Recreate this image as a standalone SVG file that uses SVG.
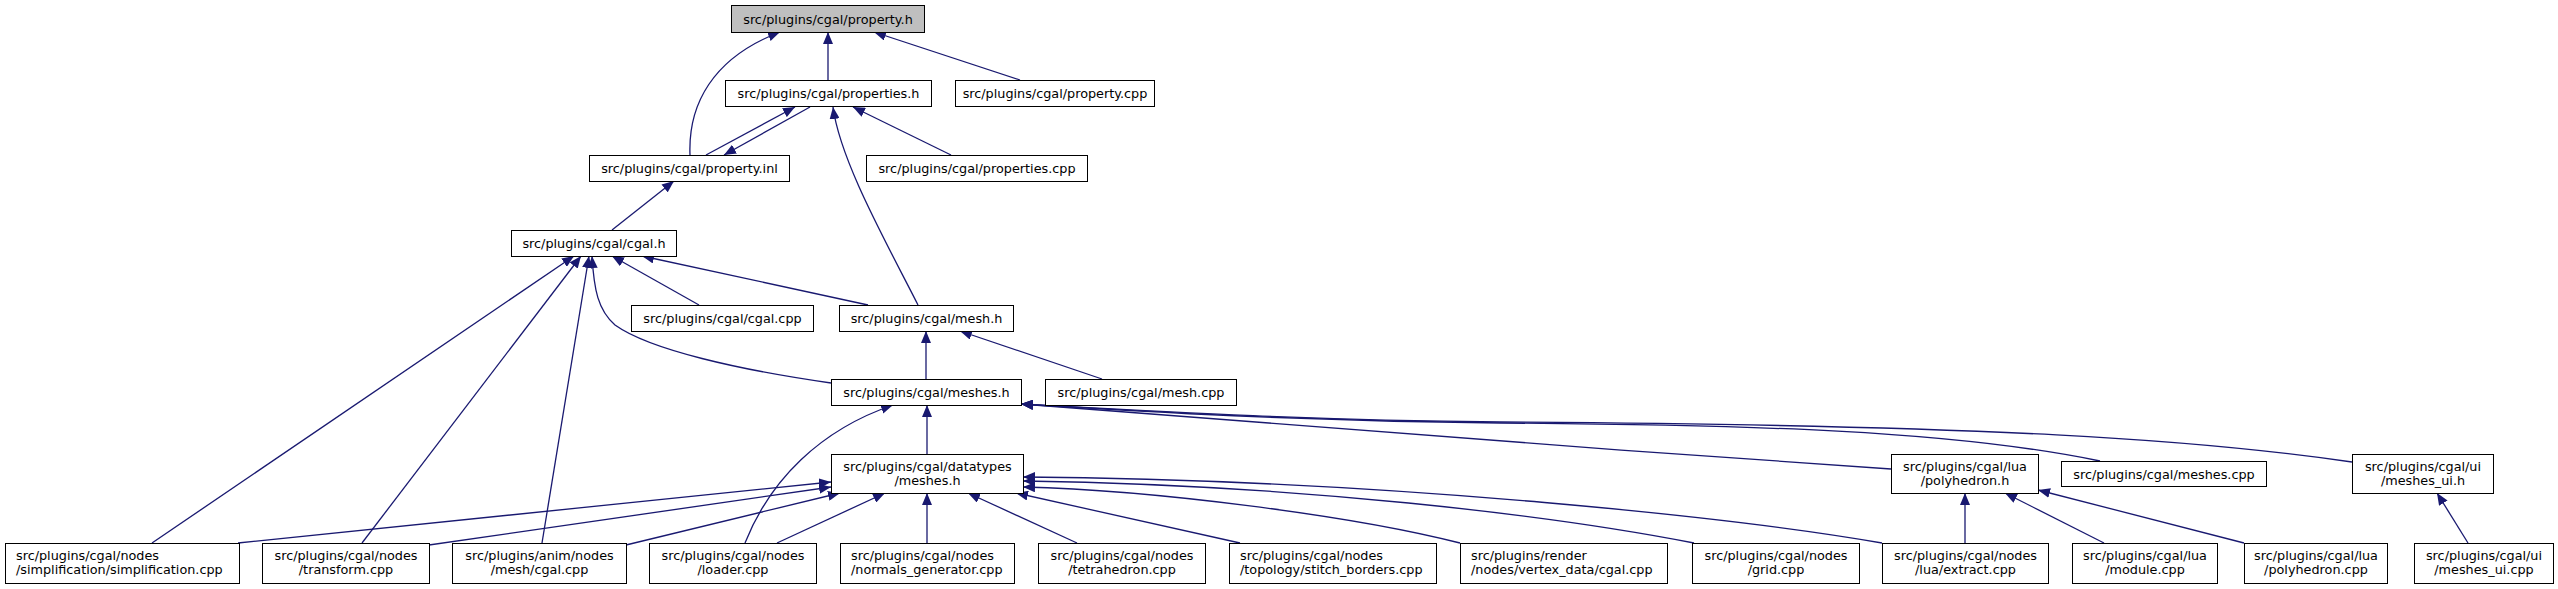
<svg xmlns="http://www.w3.org/2000/svg" width="2558" height="589" viewBox="0 0 2558 589">
<style>
.n rect{fill:#ffffff;stroke:#000000;stroke-width:1}
.root rect{fill:#bfbfbf}
.n text{font-family:"DejaVu Sans","Liberation Sans",sans-serif;font-size:12.8px;fill:#000000}
.c{text-anchor:middle}
.l{text-anchor:start}
.e path{fill:none;stroke:#191970;stroke-width:1.3;marker-end:url(#ah)}
</style>
<defs>
<marker id="ah" viewBox="0 0 12 10" refX="12" refY="5" markerWidth="12" markerHeight="10" markerUnits="userSpaceOnUse" orient="auto">
<path d="M0,0 L12,5 L0,10 z" fill="#191970"/>
</marker>
</defs>
<rect x="0" y="0" width="2558" height="589" fill="#ffffff"/>
<g id="connectors" class="e">
<path d="M690,155 C688,105 712,58 780,32"/>
<path d="M828,80 L828,32"/>
<path d="M1020,80 L874,32"/>
<path d="M706,155 L795,107"/>
<path d="M810,107 L724,155"/>
<path d="M951,155 L853,107"/>
<path d="M918,305 C885,240 840,160 833,107"/>
<path d="M612,230 L674,181"/>
<path d="M699,305 L612,256"/>
<path d="M868,305 L642,256"/>
<path d="M831,383 C740,370 650,350 615,325 C598,310 594,290 592,256"/>
<path d="M152,543 L574,256"/>
<path d="M362,543 L581,256"/>
<path d="M542,543 L589,256"/>
<path d="M926,379 L926,331"/>
<path d="M1102,379 L960,331"/>
<path d="M927,454 L927,405"/>
<path d="M745,543 C770,480 820,430 893,405"/>
<path d="M1891,469 C1600,450 1300,425 1021,404"/>
<path d="M2100,461 C1950,430 1750,425 1500,423 C1300,421 1150,412 1021,404"/>
<path d="M2352,462 C2200,440 2000,425 1500,422 C1300,420 1150,411 1021,404"/>
<path d="M238,543 L831,482"/>
<path d="M429,545 L831,487"/>
<path d="M626,545 L840,493"/>
<path d="M777,543 L885,493"/>
<path d="M927,543 L927,493"/>
<path d="M1077,543 L968,493"/>
<path d="M1240,543 L1016,493"/>
<path d="M1460,543 C1350,515 1150,490 1023,487"/>
<path d="M1694,543 C1550,515 1300,485 1023,481"/>
<path d="M1882,543 C1750,520 1400,480 1023,477"/>
<path d="M1965,543 L1965,493"/>
<path d="M2104,543 L2005,493"/>
<path d="M2244,543 L2038,490"/>
<path d="M2468,543 L2437,493"/>
</g>
<g id="n_property_h" class="n root"><rect x="731.5" y="5.5" width="193" height="27"/><text class="c" x="828" y="23.5">src/plugins/cgal/property.h</text></g>
<g id="n_properties_h" class="n"><rect x="725.5" y="80.5" width="206" height="26"/><text class="c" x="828.5" y="98">src/plugins/cgal/properties.h</text></g>
<g id="n_property_cpp" class="n"><rect x="955.5" y="80.5" width="199" height="26"/><text class="c" x="1055" y="98">src/plugins/cgal/property.cpp</text></g>
<g id="n_property_inl" class="n"><rect x="589.5" y="155.5" width="200" height="26"/><text class="c" x="689.5" y="173">src/plugins/cgal/property.inl</text></g>
<g id="n_properties_cpp" class="n"><rect x="866.5" y="155.5" width="221" height="26"/><text class="c" x="977" y="173">src/plugins/cgal/properties.cpp</text></g>
<g id="n_cgal_h" class="n"><rect x="511.5" y="230.5" width="165" height="26"/><text class="c" x="594" y="248">src/plugins/cgal/cgal.h</text></g>
<g id="n_cgal_cpp" class="n"><rect x="631.5" y="305.5" width="182" height="26"/><text class="c" x="722.5" y="323">src/plugins/cgal/cgal.cpp</text></g>
<g id="n_mesh_h" class="n"><rect x="839.5" y="305.5" width="174" height="26"/><text class="c" x="926.5" y="323">src/plugins/cgal/mesh.h</text></g>
<g id="n_meshes_h" class="n"><rect x="831.5" y="379.5" width="190" height="26"/><text class="c" x="926.5" y="397">src/plugins/cgal/meshes.h</text></g>
<g id="n_mesh_cpp" class="n"><rect x="1045.5" y="379.5" width="191" height="26"/><text class="c" x="1141" y="397">src/plugins/cgal/mesh.cpp</text></g>
<g id="n_datatypes_meshes_h" class="n"><rect x="831.5" y="454.5" width="192" height="39"/><text class="c" x="927.5" y="471">src/plugins/cgal/datatypes</text><text class="c" x="927.5" y="485">/meshes.h</text></g>
<g id="n_lua_polyhedron_h" class="n"><rect x="1891.5" y="454.5" width="147" height="39"/><text class="c" x="1965" y="471">src/plugins/cgal/lua</text><text class="c" x="1965" y="485">/polyhedron.h</text></g>
<g id="n_meshes_cpp" class="n"><rect x="2061.5" y="461.5" width="205" height="25"/><text class="c" x="2164" y="478.5">src/plugins/cgal/meshes.cpp</text></g>
<g id="n_meshes_ui_h" class="n"><rect x="2352.5" y="454.5" width="141" height="39"/><text class="c" x="2423" y="471">src/plugins/cgal/ui</text><text class="c" x="2423" y="485">/meshes_ui.h</text></g>
<g id="n_simplification_cpp" class="n"><rect x="5.5" y="543.5" width="234" height="40"/><text class="l" x="16" y="560">src/plugins/cgal/nodes</text><text class="l" x="16" y="574">/simplification/simplification.cpp</text></g>
<g id="n_transform_cpp" class="n"><rect x="262.5" y="543.5" width="167" height="40"/><text class="c" x="346" y="560">src/plugins/cgal/nodes</text><text class="c" x="346" y="574">/transform.cpp</text></g>
<g id="n_anim_mesh_cgal_cpp" class="n"><rect x="452.5" y="543.5" width="174" height="40"/><text class="c" x="539.5" y="560">src/plugins/anim/nodes</text><text class="c" x="539.5" y="574">/mesh/cgal.cpp</text></g>
<g id="n_loader_cpp" class="n"><rect x="649.5" y="543.5" width="167" height="40"/><text class="c" x="733" y="560">src/plugins/cgal/nodes</text><text class="c" x="733" y="574">/loader.cpp</text></g>
<g id="n_normals_generator_cpp" class="n"><rect x="840.5" y="543.5" width="174" height="40"/><text class="l" x="851" y="560">src/plugins/cgal/nodes</text><text class="l" x="851" y="574">/normals_generator.cpp</text></g>
<g id="n_tetrahedron_cpp" class="n"><rect x="1038.5" y="543.5" width="167" height="40"/><text class="c" x="1122" y="560">src/plugins/cgal/nodes</text><text class="c" x="1122" y="574">/tetrahedron.cpp</text></g>
<g id="n_stitch_borders_cpp" class="n"><rect x="1229.5" y="543.5" width="207" height="40"/><text class="l" x="1240" y="560">src/plugins/cgal/nodes</text><text class="l" x="1240" y="574">/topology/stitch_borders.cpp</text></g>
<g id="n_render_vertex_data_cgal_cpp" class="n"><rect x="1460.5" y="543.5" width="207" height="40"/><text class="l" x="1471" y="560">src/plugins/render</text><text class="l" x="1471" y="574">/nodes/vertex_data/cgal.cpp</text></g>
<g id="n_grid_cpp" class="n"><rect x="1692.5" y="543.5" width="167" height="40"/><text class="c" x="1776" y="560">src/plugins/cgal/nodes</text><text class="c" x="1776" y="574">/grid.cpp</text></g>
<g id="n_lua_extract_cpp" class="n"><rect x="1882.5" y="543.5" width="166" height="40"/><text class="c" x="1965.5" y="560">src/plugins/cgal/nodes</text><text class="c" x="1965.5" y="574">/lua/extract.cpp</text></g>
<g id="n_lua_module_cpp" class="n"><rect x="2072.5" y="543.5" width="145" height="40"/><text class="c" x="2145" y="560">src/plugins/cgal/lua</text><text class="c" x="2145" y="574">/module.cpp</text></g>
<g id="n_lua_polyhedron_cpp" class="n"><rect x="2244.5" y="543.5" width="143" height="40"/><text class="c" x="2316" y="560">src/plugins/cgal/lua</text><text class="c" x="2316" y="574">/polyhedron.cpp</text></g>
<g id="n_meshes_ui_cpp" class="n"><rect x="2414.5" y="543.5" width="139" height="40"/><text class="c" x="2484" y="560">src/plugins/cgal/ui</text><text class="c" x="2484" y="574">/meshes_ui.cpp</text></g>
</svg>
